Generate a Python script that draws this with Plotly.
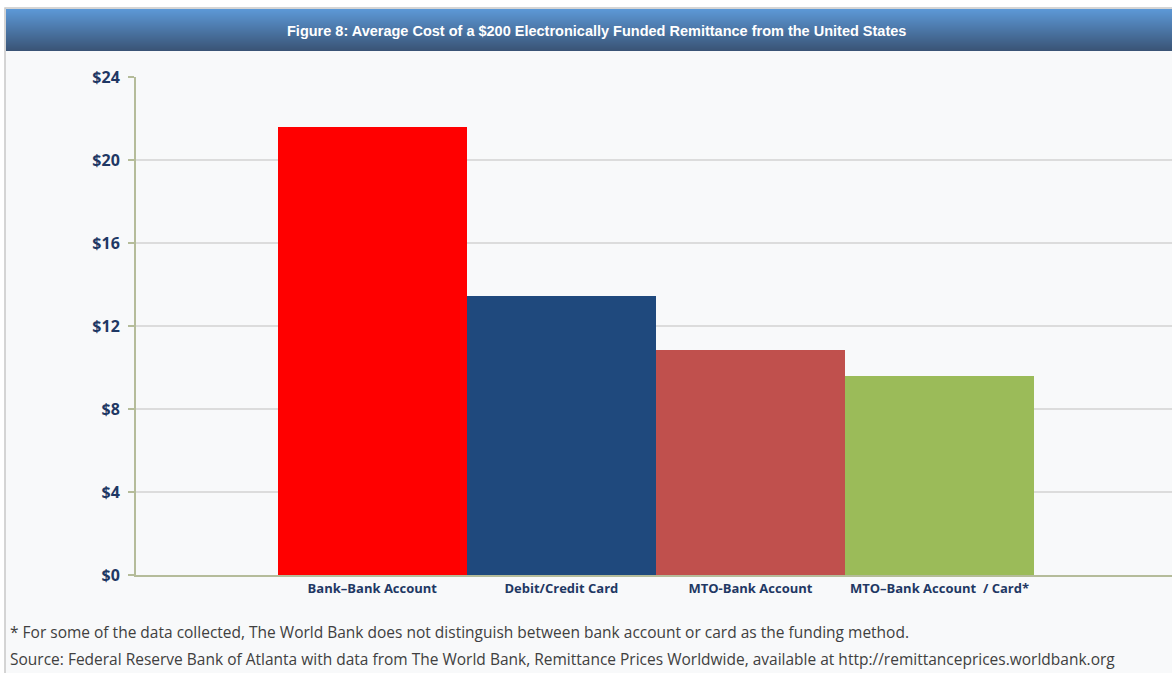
import plotly.graph_objects as go

categories = ["Bank\u2013Bank Account", "Debit/Credit Card", "MTO-Bank Account", "MTO\u2013Bank Account  / Card*"]
values = [21.6, 13.45, 10.85, 9.6]
bar_colors = ["#FF0000", "#1F497D", "#C0504D", "#9BBB59"]
y_ticks = [0, 4, 8, 12, 16, 20, 24]
y_tick_labels = ["$0", "$4", "$8", "$12", "$16", "$20", "$24"]

title_text = "Figure 8: Average Cost of a $200 Electronically Funded Remittance from the United States"
note1 = "* For some of the data collected, The World Bank does not distinguish between bank account or card as the funding method."
note2 = "Source: Federal Reserve Bank of Atlanta with data from The World Bank, Remittance Prices Worldwide, available at http://remittanceprices.worldbank.org"

W, H = 1172, 673
L, R, T, B = 136, 0, 77, 98
pw = W - L - R
ph = H - T - B

def px_x(px):
    return (px - L) / pw

def px_y(py):
    return (H - B - py) / ph

fig = go.Figure()
fig.add_trace(go.Bar(
    x=categories, y=values,
    marker=dict(color=bar_colors, line=dict(width=0)),
    width=1.0,
    hoverinfo="x+y",
))

shapes = []
# outer frame
shapes.append(dict(type="rect", xref="paper", yref="paper", layer="below",
                   x0=px_x(5), x1=px_x(1180), y0=px_y(680), y1=px_y(8),
                   fillcolor="#F8F9FA", line=dict(color="#C8C8C8", width=1.5)))
# title bar gradient via overlapping strips
top_c = (92, 152, 214)
bot_c = (58, 84, 118)
y_top, y_bot = 9, 51
n = 42
for i in range(n):
    f = i / (n - 1)
    c = tuple(int(round(top_c[k] + (bot_c[k] - top_c[k]) * f)) for k in range(3))
    py0 = y_top + (y_bot - y_top) * i / n
    shapes.append(dict(type="rect", xref="paper", yref="paper", layer="below",
                       x0=px_x(6), x1=px_x(1180), y0=px_y(y_bot), y1=px_y(py0),
                       fillcolor="rgb(%d,%d,%d)" % c, line=dict(width=0)))

annotations = [
    dict(text="<b>" + title_text + "</b>", xref="paper", yref="paper",
         x=px_x(596), y=px_y(31), xanchor="center", yanchor="middle", showarrow=False,
         font=dict(family="Liberation Sans Narrow, Arial Narrow, Liberation Sans, sans-serif", size=14.5, color="white")),
    dict(text=note1, xref="paper", yref="paper", x=px_x(8), y=px_y(632),
         xanchor="left", yanchor="middle", showarrow=False,
         font=dict(family="Open Sans, sans-serif", size=15.5, color="#404040")),
    dict(text=note2, xref="paper", yref="paper", x=px_x(8), y=px_y(659),
         xanchor="left", yanchor="middle", showarrow=False,
         font=dict(family="Open Sans, sans-serif", size=15.5, color="#404040")),
]

fig.update_layout(
    width=W, height=H,
    margin=dict(l=L, r=R, t=T, b=B, pad=0),
    paper_bgcolor="white",
    plot_bgcolor="rgba(0,0,0,0)",
    bargap=0,
    showlegend=False,
    shapes=shapes,
    annotations=annotations,
    xaxis=dict(type="category", range=[-1.25, 4.23], showgrid=False,
               showline=True, linecolor="#B5BC9A", linewidth=2,
               ticks="", tickfont=dict(family="Open Sans, sans-serif", size=13, color="#1F3864"),
               tickprefix="<b>", ticksuffix="</b>", fixedrange=True),
    yaxis=dict(range=[0, 24], tickvals=y_ticks, ticktext=["<b>" + t + "</b>" for t in y_tick_labels],
               showgrid=True, gridcolor="#DCDCDC", gridwidth=1.5,
               showline=True, linecolor="#B5BC9A", linewidth=2,
               ticks="outside", ticklen=6, tickcolor="#B5BC9A", tickwidth=1.5,
               ticklabelstandoff=5,
               tickfont=dict(family="Open Sans, sans-serif", size=16, color="#1F3864"),
               zeroline=False, fixedrange=True),
)

fig.write_html("out.html")
